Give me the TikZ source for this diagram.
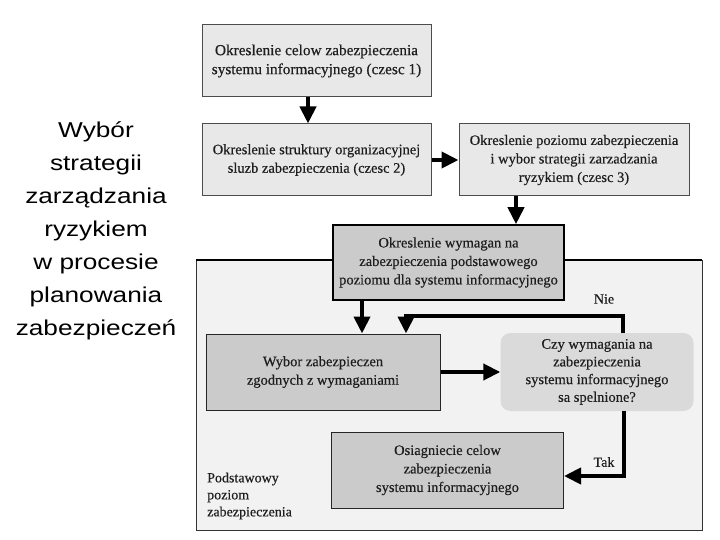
\documentclass[tikz,border=0pt]{standalone}
\usepackage{fontspec}
\setmainfont[FakeBold=0.4]{Liberation Serif}
\newfontfamily\leftfont[FakeStretch=1.22]{Liberation Sans}
\usetikzlibrary{arrows.meta}
\definecolor{lightbox}{HTML}{E8E8E8}
\definecolor{darkbox}{HTML}{CBCBCB}
\definecolor{decbox}{HTML}{DADADA}
\definecolor{regionbg}{HTML}{F2F2F2}
\definecolor{textc}{HTML}{1E1E1E}
\tikzset{
  boxtext/.style={font=\fontsize{14.5}{18.5}\selectfont, text=textc, align=center, inner sep=0pt},
  lightstep/.style={boxtext, rectangle, draw=black!70, line width=1pt, fill=lightbox},
  darkstep/.style={boxtext, rectangle, draw=black!85, line width=1pt, fill=darkbox},
  keystep/.style={boxtext, rectangle, draw=black, line width=1.6pt, fill=darkbox},
  decstep/.style={boxtext, rectangle, rounded corners=10pt, fill=decbox, font=\fontsize{14.5}{17.7}\selectfont},
  flow/.style={line width=4pt, -{Triangle[length=17pt,width=16pt]}},
  lbl/.style={font=\fontsize{14}{17}\selectfont, text=textc, inner sep=0pt}
}
\begin{document}
\begin{tikzpicture}[x=1pt,y=-1pt]
\useasboundingbox (0,0) rectangle (720,540);
\fill[white] (0,0) rectangle (720,540);
% region
\fill[regionbg] (196,260) rectangle (702,530);
\draw[black!80, line width=1pt] (196,260) -- (196,530) -- (702,530) -- (702,260);
\draw[black, line width=2pt] (196,260) -- (702,260);
\node[lbl, align=left, anchor=west, font=\fontsize{14}{17}\selectfont] (podst) at (207,496) {Podstawowy\\poziom\\zabezpieczenia};
% left title
\node[align=center, font=\leftfont\fontsize{21.5}{33}\selectfont, inner sep=0pt] (title) at (96,231)
  {Wybór\\strategii\\zarządzania\\ryzykiem\\w procesie\\planowania\\zabezpieczeń};
% boxes
\node[lightstep, minimum width=229pt, minimum height=72pt, font=\fontsize{15.3}{19}\selectfont] (b1) at (316.5,61) {Okreslenie celow zabezpieczenia\\systemu informacyjnego (czesc 1)};
\node[lightstep, minimum width=229pt, minimum height=72pt] (b2) at (316.5,160) {Okreslenie struktury organizacyjnej\\sluzb zabezpieczenia (czesc 2)};
\node[lightstep, minimum width=230pt, minimum height=72pt] (b3) at (574,160) {Okreslenie poziomu zabezpieczenia\\i wybor strategii zarzadzania\\ryzykiem (czesc 3)};
\node[keystep, minimum width=231pt, minimum height=75pt] (b4) at (448.5,262.5) {Okreslenie wymagan na\\zabezpieczenia podstawowego\\poziomu dla systemu informacyjnego};
\node[darkstep, minimum width=234pt, minimum height=76pt] (b5) at (323,372) {Wybor zabezpieczen\\zgodnych z wymaganiami};
\node[decstep, minimum width=193pt, minimum height=78pt] (dec) at (597,372) {Czy wymagania na\\zabezpieczenia\\systemu informacyjnego\\sa spelnione?};
\node[darkstep, minimum width=232pt, minimum height=76pt] (b6) at (447.5,470) {Osiagniecie celow\\zabezpieczenia\\systemu informacyjnego};
% connectors
\draw[flow] ([xshift=-8.5pt]b1.south) -- ([xshift=-8.5pt]b2.north);
\draw[flow] (b2.east) -- (b3.west);
\draw[flow] ([xshift=-58pt]b3.south) -- ([xshift=67.5pt]b4.north);
\draw[flow] ([xshift=-86.5pt]b4.south) -- ([xshift=39pt]b5.north);
\coordinate (niec) at (623,316);
\draw[flow] ([xshift=26pt]dec.north) -- (niec) -| ([xshift=83pt]b5.north);
\draw[flow] (b5.east) -- (dec.west);
\draw[flow] ([xshift=27pt]dec.south) |- ([yshift=-6pt]b6.east);
\node[lbl] (nie) at (604,299) {Nie};
\node[lbl] (tak) at (604,462) {Tak};
\end{tikzpicture}
\end{document}
